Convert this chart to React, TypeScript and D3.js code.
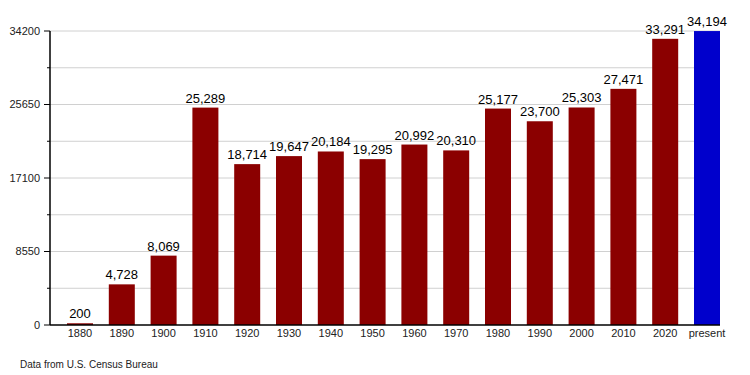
import React from "react";
import * as d3 from "d3";

const categories = ["1880","1890","1900","1910","1920","1930","1940","1950","1960","1970","1980","1990","2000","2010","2020","present"];
const values = [200,4728,8069,25289,18714,19647,20184,19295,20992,20310,25177,23700,25303,27471,33291,34194];
const yTicks = [0, 8550, 17100, 25650, 34200];
const yMinorTicks = [4275, 12825, 21375, 29925];
const footer = "Data from U.S. Census Bureau";

export default function App() {
  const W = 750, H = 375;
  const left = 50, right = 720, top = 31, bottom = 325;
  const x = d3.scaleBand<string>().domain(categories).range([67, 720]).paddingInner(0.378).paddingOuter(0);
  const y = d3.scaleLinear().domain([0, 34200]).range([bottom, top]);
  const fmt = d3.format(",");
  const font = "'Liberation Sans', Arial, sans-serif";
  return (
    <svg width={W} height={H} style={{ position: "absolute", left: 0, top: 0 }} fontFamily={font}>
      <rect width={W} height={H} fill="#fff" />
      {[...yTicks, ...yMinorTicks].filter(t => t > 0).map(t => (
        <line key={"g" + t} x1={left} x2={right} y1={y(t)} y2={y(t)} stroke="#d0d0d0" strokeWidth={1} />
      ))}
      {categories.map((c, i) => (
        <rect key={c} x={x(c)} y={y(values[i])} width={x.bandwidth()} height={bottom - y(values[i])}
          fill={c === "present" ? "#0000cc" : "#8b0000"} />
      ))}
      {categories.map((c, i) => (
        <text key={"v" + c} x={(x(c) as number) + x.bandwidth() / 2} y={y(values[i]) - 5}
          textAnchor="middle" fontSize={13} fill="#000">{fmt(values[i])}</text>
      ))}
      <line x1={left} x2={left} y1={top} y2={bottom} stroke="#000" strokeWidth={1.5} />
      <line x1={left} x2={right} y1={bottom} y2={bottom} stroke="#000" strokeWidth={1.5} />
      {yTicks.map(t => (
        <g key={"t" + t}>
          <line x1={left - 6} x2={left} y1={y(t)} y2={y(t)} stroke="#000" />
          <text x={left - 10} y={y(t)} dy="0.35em" textAnchor="end" fontSize={11} fill="#222">{t}</text>
        </g>
      ))}
      {yMinorTicks.map(t => (
        <line key={"m" + t} x1={left - 3} x2={left} y1={y(t)} y2={y(t)} stroke="#000" />
      ))}
      {categories.map(c => (
        <text key={"x" + c} x={(x(c) as number) + x.bandwidth() / 2} y={337} textAnchor="middle" fontSize={11} fill="#222">{c}</text>
      ))}
      <text x={20} y={368} fontSize={10} fill="#222">{footer}</text>
    </svg>
  );
}
